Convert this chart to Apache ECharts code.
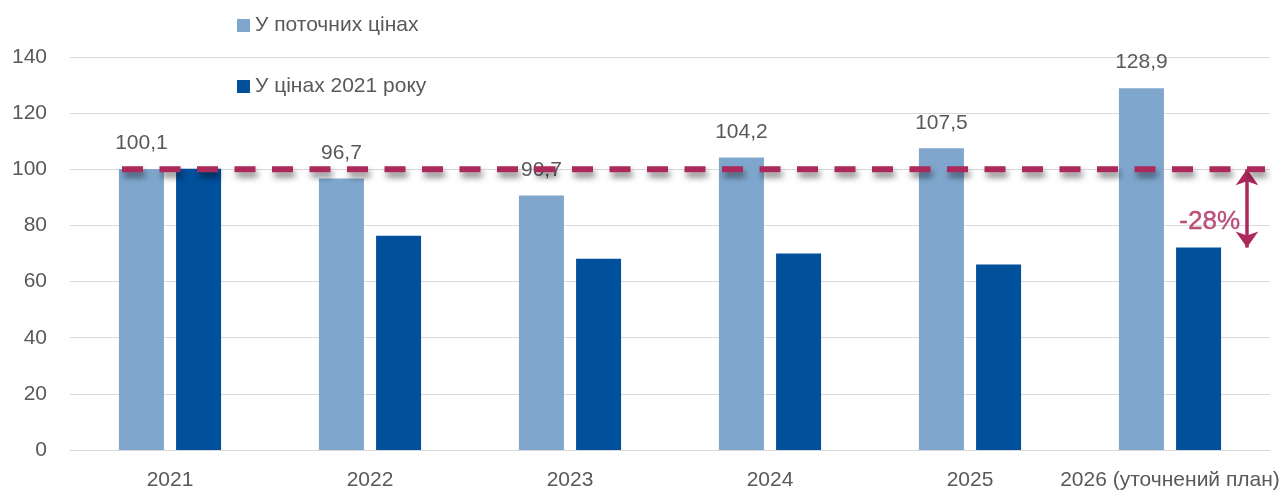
<!DOCTYPE html>
<html>
<head>
<meta charset="utf-8">
<script src="https://cdn.jsdelivr.net/npm/echarts@6/dist/echarts.min.js"></script>
<style>
  html, body { margin: 0; padding: 0; background: #fff; }
  #chart { width: 1287px; height: 491px; }
</style>
</head>
<body>
<div id="chart"></div>
<script>
// Categories and series values
const categories = ['2021', '2022', '2023', '2024', '2025', '2026 (уточнений план)'];
const currentPrices = [100.1, 96.7, 90.7, 104.2, 107.5, 128.9];
const prices2021 = [100.2, 76.3, 68.1, 70.0, 66.1, 72.1];
const seriesNames = ['У поточних цінах', 'У цінах 2021 року'];
const yTicks = [0, 20, 40, 60, 80, 100, 120, 140];
const baseLevel = 100;

// Change of the last year in 2021 prices relative to the base level
const lastReal = prices2021[prices2021.length - 1];
const changePct = Math.round((lastReal / baseLevel - 1) * 100);

const textColor = '#595959';
const accent = '#AC295C';
const font = 'Liberation Sans, Arial, sans-serif';

// Horizontal extent of the reference line and arrow position, in category units
const refStart = 0.26, refEnd = 5.975, arrowX = 5.885;

const chart = echarts.init(document.getElementById('chart'));
chart.setOption({
  animation: false,
  textStyle: { fontFamily: font },
  grid: { left: 70, right: 17, top: 57, bottom: 40, containLabel: false },
  legend: {
    orient: 'vertical',
    left: 232,
    top: 10,
    itemGap: 40,
    itemWidth: 13,
    itemHeight: 13,
    icon: 'rect',
    textStyle: { fontSize: 21, color: textColor, fontFamily: font },
    data: seriesNames
  },
  xAxis: [
    {
      type: 'category',
      data: categories,
      axisLine: { show: true, lineStyle: { color: '#d9d9d9', width: 1 } },
      axisTick: { show: false },
      axisLabel: { color: textColor, fontSize: 21, margin: 20, interval: 0, fontFamily: font }
    },
    {
      type: 'value', min: 0, max: categories.length, show: false
    }
  ],
  yAxis: {
    type: 'value',
    min: yTicks[0],
    max: yTicks[yTicks.length - 1],
    interval: yTicks[1] - yTicks[0],
    axisLine: { show: false },
    axisTick: { show: false },
    splitLine: { lineStyle: { color: '#d9d9d9', width: 1 } },
    axisLabel: { color: textColor, fontSize: 21, margin: 23, fontFamily: font }
  },
  series: [
    {
      name: seriesNames[0],
      type: 'bar',
      data: currentPrices,
      barWidth: 45,
      barGap: '27%',
      itemStyle: { color: '#7FA7CE' },
      label: {
        show: true,
        position: 'top',
        distance: 15,
        color: textColor,
        fontSize: 21,
        fontFamily: font,
        formatter: p => String(p.value).replace('.', ',')
      },
      z: 2
    },
    {
      name: seriesNames[1],
      type: 'bar',
      data: prices2021,
      barWidth: 45,
      itemStyle: { color: '#00509C' },
      z: 2
    },
    {
      name: 'base',
      type: 'line',
      xAxisIndex: 1,
      data: [[refStart, baseLevel], [refEnd, baseLevel]],
      symbol: 'none',
      silent: true,
      z: 5,
      lineStyle: {
        color: accent,
        width: 6,
        type: [21, 16.5],
        shadowColor: 'rgba(0,0,0,0.5)',
        shadowBlur: 6,
        shadowOffsetX: 2,
        shadowOffsetY: 5
      },
      markLine: {
        silent: true,
        symbol: ['arrow', 'arrow'],
        symbolSize: [17, 16],
        label: { show: false },
        lineStyle: { color: accent, width: 3.5, type: 'solid' },
        data: [[{ coord: [arrowX, baseLevel] }, { coord: [arrowX, lastReal] }]]
      }
    },
    {
      name: 'change',
      type: 'scatter',
      xAxisIndex: 1,
      symbolSize: 0,
      silent: true,
      data: [[arrowX, (baseLevel + lastReal) / 2]],
      label: {
        show: true,
        position: 'left',
        distance: 7,
        offset: [0, 13],
        color: accent,
        fontSize: 26,
        fontFamily: font,
        textBorderColor: accent,
        textBorderWidth: 0.4,
        formatter: () => changePct + '%'
      },
      z: 6
    }
  ]
});
</script>
</body>
</html>
